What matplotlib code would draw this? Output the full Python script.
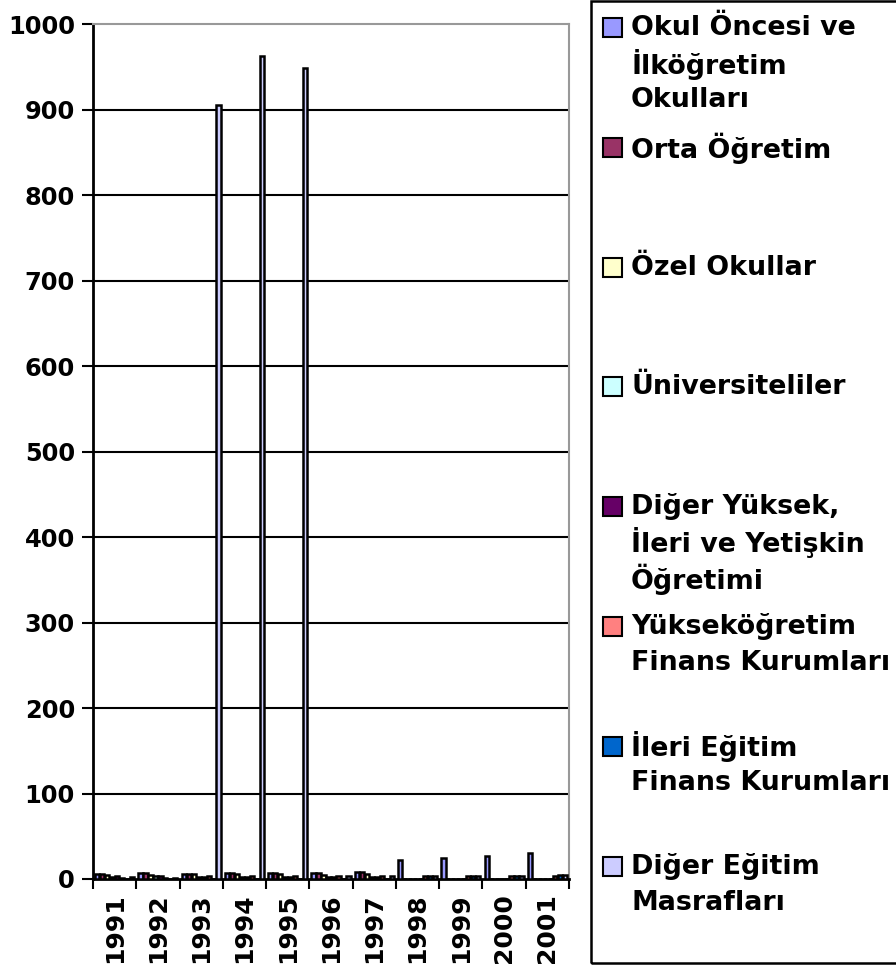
import numpy as np
import matplotlib.pyplot as plt
from matplotlib.patches import Rectangle

# data
years = ["1991", "1992", "1993", "1994", "1995", "1996",
         "1997", "1998", "1999", "2000", "2001"]

series_names = [
    "Okul Öncesi ve\nİlköğretim\nOkulları",
    "Orta Öğretim",
    "Özel Okullar",
    "Üniversiteliler",
    "Diğer Yüksek,\nİleri ve Yetişkin\nÖğretimi",
    "Yükseköğretim\nFinans Kurumları",
    "İleri Eğitim\nFinans Kurumları",
    "Diğer Eğitim\nMasrafları",
]

okul_oncesi = [6, 7, 6, 7, 7, 7, 8, 22, 24, 27, 30]
orta = [6, 7, 6, 7, 7, 7, 8, 0, 0, 0, 0]
ozel = [5, 5, 6, 6, 6, 5, 6, 0, 0, 0, 0]
universite = [2, 3, 2, 2, 2, 2, 2, 0, 0, 0, 0]
diger_yuksek = [3, 3, 2, 2, 2, 2, 2, 0, 0, 0, 0]
yuksek_finans = [1, 1, 3, 3, 3, 3, 4, 3, 3, 3, 4]
ileri_finans = [0, 0, 0, 0, 0, 0, 0, 3, 3, 3, 5]
diger_masraf = [2, 1, 905, 962, 948, 4, 3, 4, 4, 4, 5]

series_values = [okul_oncesi, orta, ozel, universite,
                 diger_yuksek, yuksek_finans, ileri_finans, diger_masraf]
colors = ["#9999FF", "#993366", "#FFFFCC", "#CCFFFF",
          "#660066", "#FF8080", "#0066CC", "#CCCCFF"]

W, H = 896, 969


def fx(px):
    return px / W


def fy(py):
    return 1 - py / H


fig = plt.figure(figsize=(W / 100, H / 100), dpi=100)
ax = fig.add_axes([fx(93), fy(879), (569 - 93) / W, (879 - 24) / H])

x = np.arange(len(years))
bw = 0.115
for j, (vals, col) in enumerate(zip(series_values, colors)):
    ax.bar(x + (j - 3.5) * bw, vals, width=bw * 0.85, color=col,
           edgecolor="black", linewidth=1.8, zorder=3)

ax.set_xlim(-0.5, len(years) - 0.5)
ax.set_ylim(0, 1000)
ax.set_yticks(np.arange(0, 1001, 100))
for v in range(100, 1000, 100):
    ax.axhline(v, color="black", lw=1.5, zorder=1)

ax.set_xticks(np.arange(len(years) + 1) - 0.5)
ax.set_xticklabels([])
ax.set_xticks(x, minor=True)
ax.set_xticklabels(years, minor=True, rotation=90, fontsize=18,
                   fontweight="bold")
ax.tick_params(axis="x", which="major", length=7, width=1.5, direction="out")
ax.tick_params(axis="x", which="minor", length=0, pad=10)
ax.tick_params(axis="y", length=8, width=1.5, direction="out", pad=5,
               labelsize=17.4)
for lbl in ax.get_yticklabels():
    lbl.set_fontweight("bold")

ax.spines["left"].set_linewidth(2)
ax.spines["bottom"].set_linewidth(2)
ax.spines["top"].set_color("#999999")
ax.spines["right"].set_color("#999999")
ax.spines["top"].set_linewidth(1.5)
ax.spines["right"].set_linewidth(1.5)

# legend drawn by hand to spread entries over the full height
fig.patches.append(Rectangle((fx(591), fy(963)), (905 - 591) / W,
                             (963 - 1) / H, transform=fig.transFigure,
                             fill=False, edgecolor="black", lw=1.8))
entry_y = [28, 148, 268, 387, 507, 627, 747, 867]
line_gap = 36
for name, col, ey in zip(series_names, colors, entry_y):
    fig.patches.append(Rectangle((fx(603), fy(ey + 9)), 19 / W, 19 / H,
                                 transform=fig.transFigure, facecolor=col,
                                 edgecolor="black", lw=1.5))
    for k, line in enumerate(name.split("\n")):
        fig.text(fx(631), fy(ey + k * line_gap), line, fontsize=19.4,
                 fontweight="bold", va="center", ha="left")

fig.savefig("out.png", dpi=100)
